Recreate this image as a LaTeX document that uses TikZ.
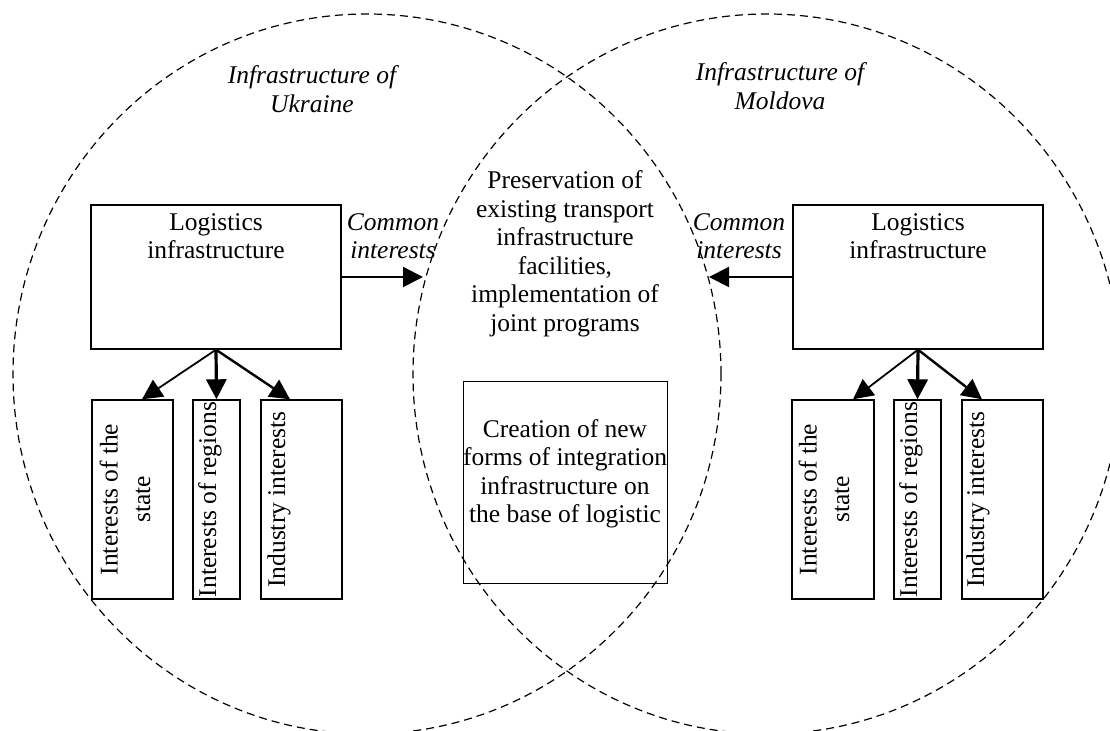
\documentclass[tikz,border=0pt]{standalone}
\usepackage{fontspec}
\setmainfont{Liberation Serif}
\usetikzlibrary{arrows.meta}
\tikzset{
	box/.style 2 args={draw, line width=0.7pt, minimum width=#1, minimum height=#2, inner sep=0pt},
	txt/.style={align=center, inner sep=0pt, font=\fontsize{12.75}{14.25}\selectfont},
	itxt/.style={txt, font=\fontsize{12.75}{14.25}\selectfont\itshape},
	rtxt/.style={txt, rotate=90},
	arr/.style={-{Triangle[length=10pt,width=10pt]}, line width=#1},
	arr/.default=1pt,
	zone/.style={dash pattern=on 4pt off 2.5pt, line width=0.6pt}
}

\begin{document}
\begin{tikzpicture}[x=0.5pt, y=-0.5pt]
	\useasboundingbox (0,0) rectangle (1110,731);
	\draw[zone] (367,374) ellipse [x radius=177pt, y radius=180pt];
	\draw[zone] (767,374) ellipse [x radius=177pt, y radius=180pt];
	\node[itxt] (infU) at (312,89) {Infrastructure of\\Ukraine};
	\node[itxt] (infM) at (780,86) {Infrastructure of\\Moldova};

	\node[box={125pt}{72pt}] (logU) at (216,277) {};
	\node[txt] (logUt) at (216,236) {Logistics\\infrastructure};
	\node[box={125pt}{72pt}] (logM) at (918,277) {};
	\node[txt] (logMt) at (918,236) {Logistics\\infrastructure};

	\node[itxt] (comU) at (393,236) {Common\\interests};
	\node[itxt] (comM) at (739,236) {Common\\interests};
	\coordinate (tipU) at (423,277);
	\coordinate (tipM) at (709,277);
	\draw[arr] (logU.east) -- (tipU);
	\draw[arr] (logM.west) -- (tipM);

	\node[txt] (pres) at (565,254) {Preservation of\\existing transport\\infrastructure\\facilities,\\implementation of\\joint programs};
	\node[box={102pt}{101pt}, line width=0.5pt] (crea) at (565,483) {};
	\node[txt] (creat) at (565,474) {Creation of new\\forms of integration\\infrastructure on\\the base of logistic};

	\node[box={40.5pt}{99.5pt}] (stU) at (132.5,499.5) {};
	\node[box={23.5pt}{99.5pt}] (rgU) at (216.5,499.5) {};
	\node[box={40.5pt}{99.5pt}] (inU) at (301.5,499.5) {};
	\node[rtxt] (stUt) at (125,499.5) {Interests of the\\[2pt]state};
	\node[rtxt] (rgUt) at (210,499.5) {Interests of regions};
	\node[rtxt] (inUt) at (279,499.5) {Industry interests};
	\draw[arr=0.9pt] (logU.south) -- ([xshift=4.75pt]stU.north);
	\draw[arr=1.6pt] (logU.south) -- (rgU.north);
	\draw[arr=1.2pt] (logU.south) -- ([xshift=-5.75pt]inU.north);

	\node[box={41pt}{99.5pt}] (stM) at (833,499.5) {};
	\node[box={23.5pt}{99.5pt}] (rgM) at (917.5,499.5) {};
	\node[box={40.5pt}{99.5pt}] (inM) at (1002.5,499.5) {};
	\node[rtxt] (stMt) at (824,499.5) {Interests of the\\[2pt]state};
	\node[rtxt] (rgMt) at (911,499.5) {Interests of regions};
	\node[rtxt] (inMt) at (978,499.5) {Industry interests};
	\draw[arr=0.9pt] (logM.south) -- ([xshift=10pt]stM.north);
	\draw[arr=1.6pt] (logM.south) -- (rgM.north);
	\draw[arr=1.2pt] (logM.south) -- ([xshift=-10.25pt]inM.north);
\end{tikzpicture}
\end{document}
